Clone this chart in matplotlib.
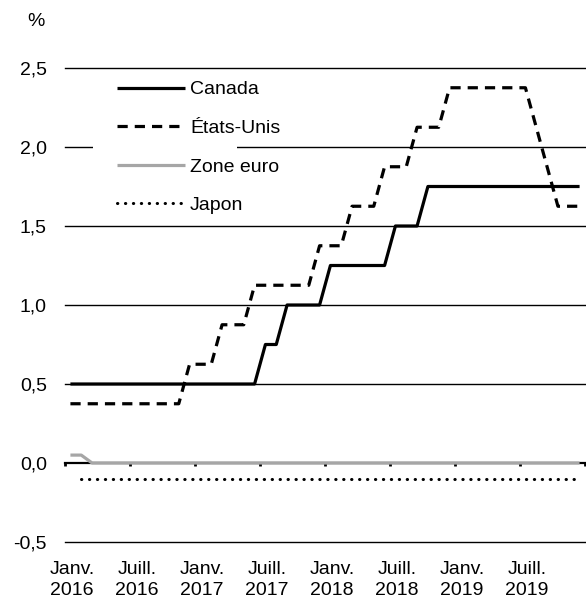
import numpy as np
import matplotlib
matplotlib.use("Agg")
import matplotlib.pyplot as plt
from matplotlib.patches import Rectangle

plt.rcParams['font.family'] = ['Liberation Sans', 'DejaVu Sans']

# Monthly data, Jan 2016 .. Dec 2019
canada = [0.5, 0.5, 0.5, 0.5, 0.5, 0.5, 0.5, 0.5, 0.5, 0.5, 0.5, 0.5,
          0.5, 0.5, 0.5, 0.5, 0.5, 0.5, 0.75, 0.75, 1.0, 1.0, 1.0, 1.0,
          1.25, 1.25, 1.25, 1.25, 1.25, 1.25, 1.5, 1.5, 1.5, 1.75, 1.75, 1.75,
          1.75, 1.75, 1.75, 1.75, 1.75, 1.75, 1.75, 1.75, 1.75, 1.75, 1.75, 1.75]
etats_unis = [0.375, 0.375, 0.375, 0.375, 0.375, 0.375, 0.375, 0.375, 0.375, 0.375, 0.375, 0.625,
              0.625, 0.625, 0.875, 0.875, 0.875, 1.125, 1.125, 1.125, 1.125, 1.125, 1.125, 1.375,
              1.375, 1.375, 1.625, 1.625, 1.625, 1.875, 1.875, 1.875, 2.125, 2.125, 2.125, 2.375,
              2.375, 2.375, 2.375, 2.375, 2.375, 2.375, 2.375, 2.125, 1.875, 1.625, 1.625, 1.625]
zone_euro = [0.05, 0.05, 0.0, 0.0, 0.0, 0.0, 0.0, 0.0, 0.0, 0.0, 0.0, 0.0,
             0.0, 0.0, 0.0, 0.0, 0.0, 0.0, 0.0, 0.0, 0.0, 0.0, 0.0, 0.0,
             0.0, 0.0, 0.0, 0.0, 0.0, 0.0, 0.0, 0.0, 0.0, 0.0, 0.0, 0.0,
             0.0, 0.0, 0.0, 0.0, 0.0, 0.0, 0.0, 0.0, 0.0, 0.0, 0.0, 0.0]
japon = [np.nan, -0.1, -0.1, -0.1, -0.1, -0.1, -0.1, -0.1, -0.1, -0.1, -0.1, -0.1,
         -0.1, -0.1, -0.1, -0.1, -0.1, -0.1, -0.1, -0.1, -0.1, -0.1, -0.1, -0.1,
         -0.1, -0.1, -0.1, -0.1, -0.1, -0.1, -0.1, -0.1, -0.1, -0.1, -0.1, -0.1,
         -0.1, -0.1, -0.1, -0.1, -0.1, -0.1, -0.1, -0.1, -0.1, -0.1, -0.1, -0.1]

tick_months = [0, 6, 12, 18, 24, 30, 36, 42, 48]
tick_labels = ["Janv.\n2016", "Juill.\n2016", "Janv.\n2017", "Juill.\n2017",
               "Janv.\n2018", "Juill.\n2018", "Janv.\n2019", "Juill.\n2019"]
y_ticks = [-0.5, 0.0, 0.5, 1.0, 1.5, 2.0, 2.5]
y_labels = ["-0,5", "0,0", "0,5", "1,0", "1,5", "2,0", "2,5"]

W, H = 586, 602
fig = plt.figure(figsize=(W / 100, H / 100), dpi=100)
ax = fig.add_axes([65 / W, 60 / H, 520 / W, 474 / H])

x = np.arange(len(canada)) + 0.5
fs = 14

# gridlines
for yv in y_ticks:
    if yv == 0.0:
        continue
    ax.axhline(yv, color='black', lw=1.0, zorder=1, clip_on=False)

# zero axis line with tick marks
ax.axhline(0.0, color='black', lw=1.6, zorder=2, clip_on=False)
ax.vlines(tick_months, -0.022, 0.0, colors='black', lw=2.0, zorder=2, clip_on=False)

ax.plot(x, canada, color='black', lw=2.3, zorder=4, label='Canada', solid_capstyle='butt')
ax.plot(x, etats_unis, color='black', lw=2.3, zorder=4, label='États-Unis',
        linestyle=(0, (3.2, 2.2)), dash_capstyle='butt')
ax.plot(x, zone_euro, color='#a6a6a6', lw=2.3, zorder=3, label='Zone euro', solid_capstyle='butt')
ax.plot(x, japon, color='black', lw=2.2, zorder=4, label='Japon',
        linestyle=(0, (0.1, 2.5)), dash_capstyle='round')

ax.set_xlim(0, 48)
ax.set_ylim(-0.5, 2.5)

ax.set_yticks(y_ticks, y_labels)
ax.set_xticks([m + 0.65 for m in tick_months[:-1]], tick_labels)
ax.tick_params(axis='y', length=0, pad=13, labelsize=fs)
ax.tick_params(axis='x', length=0, pad=14, labelsize=fs)
for lab in ax.get_xticklabels():
    lab.set_linespacing(1.3)
for s in ax.spines.values():
    s.set_visible(False)

# white area behind legend
ax.add_patch(Rectangle((0.054, 0.69), 0.277, 0.303, transform=ax.transAxes,
                       facecolor='white', edgecolor='none', zorder=5))
leg = ax.legend(loc='upper left', bbox_to_anchor=(0.1, 0.973), frameon=False,
                fontsize=fs, handlelength=3.5, handletextpad=0.26, labelspacing=1.08,
                borderaxespad=0, borderpad=0)
leg.set_zorder(6)

fig.text(36 / W, 1 - 22 / H, "%", fontsize=fs, ha='center', va='center')

fig.savefig("out.png", dpi=100)
